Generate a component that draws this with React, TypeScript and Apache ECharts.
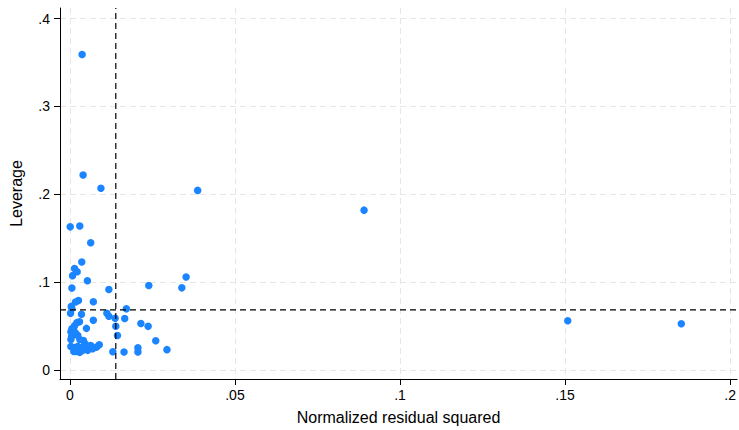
import React, { useEffect, useRef } from "react";
import * as echarts from "echarts";

// Normalized residual squared (x) and leverage (y)
const residSq: number[] = [
  0.0037, 0.0040, 0.0094, 0.0387, 0.0891, 0.0001, 0.0030, 0.0063, 0.0036, 0.0014,
  0.0022, 0.0008, 0.0053, 0.0352, 0.0239, 0.0339, 0.0006, 0.0118, 0.0026, 0.0017,
  0.0071, 0.0004, 0.0006, 0.0171, 0.0002, 0.0035, 0.0112, 0.0118, 0.0137, 0.0166,
  0.0071, 0.0029, 0.0215, 0.0237, 0.0139, 0.0050, 0.0144, 0.0260, 0.0130, 0.0164,
  0.0206, 0.0206, 0.0294, 0.1508, 0.1852, 0.0021, 0.0014, 0.0006, 0.0003, 0.0012,
  0.0018, 0.0005, 0.0024, 0.0003, 0.0030, 0.0041, 0.0046, 0.0003, 0.0015, 0.0024,
  0.0033, 0.0042, 0.0021, 0.0030, 0.0039, 0.0048, 0.0063, 0.0069, 0.0081, 0.0089,
  0.0054, 0.0012,
];
const leverage: number[] = [
  0.359, 0.222, 0.207, 0.2045, 0.182, 0.163, 0.164, 0.145, 0.123, 0.1157,
  0.112, 0.1075, 0.1017, 0.106, 0.0963, 0.0936, 0.0933, 0.0918, 0.0792, 0.0775,
  0.0778, 0.0725, 0.070, 0.0697, 0.0646, 0.0635, 0.0646, 0.0612, 0.059, 0.0588,
  0.0567, 0.055, 0.0531, 0.0498, 0.050, 0.0475, 0.0393, 0.0334, 0.021, 0.0206,
  0.0255, 0.0206, 0.0233, 0.0562, 0.0528, 0.054, 0.0506, 0.0472, 0.0438, 0.045,
  0.0416, 0.0382, 0.0393, 0.0348, 0.0348, 0.0337, 0.030, 0.027, 0.0258, 0.027,
  0.0247, 0.027, 0.0213, 0.0202, 0.0225, 0.0247, 0.0281, 0.0244, 0.0262, 0.0289,
  0.0225, 0.0213,
];

// Reference lines: mean of normalized residual squared, and average leverage
const meanResidSq = 0.0139;
const meanLeverage = 0.0685;

const xTicks: number[] = [0, 0.05, 0.1, 0.15, 0.2];
const yTicks: number[] = [0, 0.1, 0.2, 0.3, 0.4];

const X_MIN = -0.003;
const X_MAX = 0.2021;
const Y_MIN = -0.0101;
const Y_MAX = 0.412;

const fmt = (v: number) => (v === 0 ? "0" : String(+v.toFixed(4)).replace(/^0\./, "."));

export default function App() {
  const ref = useRef<HTMLDivElement>(null);
  useEffect(() => {
    if (!ref.current) return;
    const chart = echarts.init(ref.current, undefined, { renderer: "svg" });
    const font = "Liberation Sans, Arial, sans-serif";
    const gridLine = { show: true, lineStyle: { color: "#e6e6e6", type: [6, 4] as any, width: 1 } };
    const refLineStyle = { color: "#000", type: [6, 4] as any, width: 1.2 };
    chart.setOption({
      animation: false,
      backgroundColor: "#ffffff",
      grid: { left: 60, right: 0, top: 8, bottom: 46, containLabel: false },
      xAxis: {
        type: "value",
        min: X_MIN,
        max: X_MAX,
        name: "Normalized residual squared",
        nameLocation: "middle",
        nameGap: 30,
        nameTextStyle: { fontFamily: font, fontSize: 16, color: "#000" },
        axisLine: { show: true, onZero: false, lineStyle: { color: "#000", width: 1 } },
        axisTick: { show: true, length: 6, customValues: xTicks, lineStyle: { color: "#000" } },
        axisLabel: {
          customValues: xTicks,
          formatter: fmt,
          fontFamily: font,
          fontSize: 14,
          color: "#000",
          margin: 9,
        },
        splitLine: gridLine,
      },
      yAxis: {
        type: "value",
        min: Y_MIN,
        max: Y_MAX,
        name: "Leverage",
        nameLocation: "middle",
        nameGap: 36,
        nameRotate: 90,
        nameTextStyle: { fontFamily: font, fontSize: 16, color: "#000" },
        axisLine: { show: true, onZero: false, lineStyle: { color: "#000", width: 1 } },
        axisTick: { show: true, length: 6, customValues: yTicks, lineStyle: { color: "#000" } },
        axisLabel: {
          customValues: yTicks,
          formatter: fmt,
          fontFamily: font,
          fontSize: 14,
          color: "#000",
          margin: 10,
        },
        splitLine: gridLine,
      },
      series: [
        {
          type: "line",
          data: [[meanResidSq, Y_MIN], [meanResidSq, Y_MAX]],
          symbol: "none",
          silent: true,
          lineStyle: refLineStyle,
          z: 3,
        },
        {
          type: "line",
          data: [[X_MIN, meanLeverage], [X_MAX, meanLeverage]],
          symbol: "none",
          silent: true,
          lineStyle: refLineStyle,
          z: 3,
        },
        {
          type: "scatter",
          data: residSq.map((x, i) => [x, leverage[i]]),
          symbol: "circle",
          symbolSize: 7.5,
          itemStyle: { color: "#1a85ff", opacity: 1 },
          silent: true,
          z: 2,
        },
      ],
    });
    return () => chart.dispose();
  }, []);
  return <div ref={ref} style={{ width: 739, height: 430, position: "absolute", left: 0, top: 0 }} />;
}
